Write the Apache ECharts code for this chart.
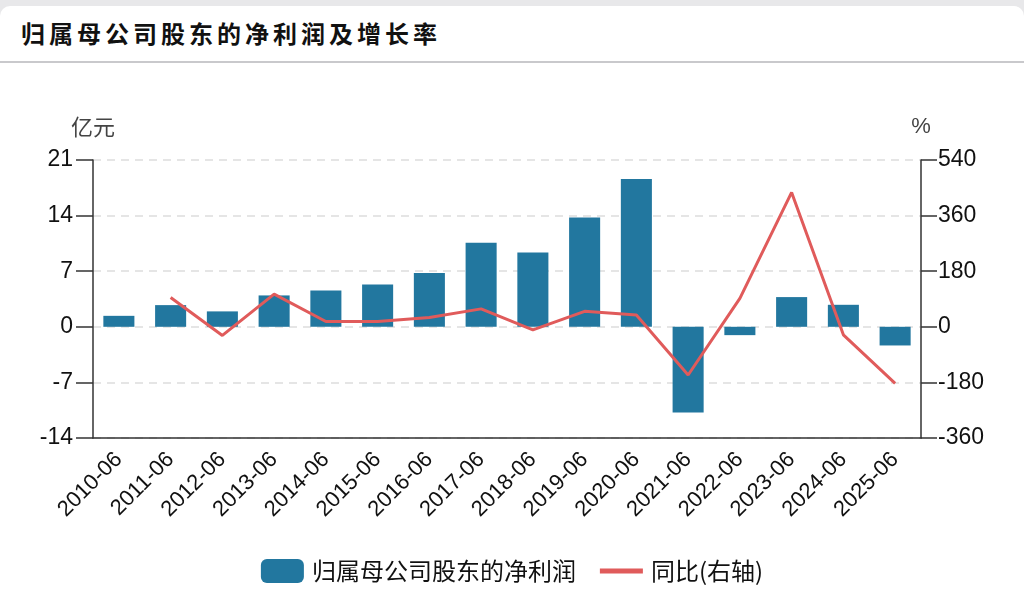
<!DOCTYPE html>
<html>
<head>
<meta charset="utf-8">
<script src="https://cdn.jsdelivr.net/npm/echarts@6/dist/echarts.min.js"></script>
<style>
  html, body { margin: 0; padding: 0; background: #e8e8ea; }
  .card {
    position: absolute; left: 0; top: 6px; width: 1024px; height: 600px;
    background: #fff; border-radius: 10px 10px 0 0;
  }
  .title {
    position: absolute; left: 21px; top: 14px; height: 47px;
    font: bold 24px "Noto Sans CJK SC", sans-serif; letter-spacing: 4px;
    color: #111; line-height: 26px;
  }
  .sep { position: absolute; left: 0; top: 55px; width: 1024px; height: 1.5px; background: #c9c9cc; }
  #main { position: absolute; left: 0; top: 0; width: 1024px; height: 606px; }
</style>
</head>
<body>
<div class="card">
  <div class="title">归属母公司股东的净利润及增长率</div>
  <div class="sep"></div>
</div>
<div id="main"></div>
<script>
// data
const periods = ["2010-06", "2011-06", "2012-06", "2013-06", "2014-06", "2015-06", "2016-06", "2017-06",
  "2018-06", "2019-06", "2020-06", "2021-06", "2022-06", "2023-06", "2024-06", "2025-06"];
const netProfit = [1.38, 2.73, 1.94, 3.95, 4.58, 5.34, 6.76, 10.58, 9.37, 13.77, 18.6, -10.78, -1.05, 3.74, 2.77, -2.35];
const yoyGrowth = [null, 95, -28, 106, 17, 17, 30, 58, -10, 50, 38, -156, 92, 435, -26, -183];

const barColor = "#22779f";
const lineColor = "#e05b5b";
const axisFont = "'Liberation Sans', Arial, 'Noto Sans CJK SC', sans-serif";
const cjkFont = "'Noto Sans CJK SC', sans-serif";

const chart = echarts.init(document.getElementById("main"));
const option = {
  animation: false,
  textStyle: { fontFamily: axisFont },
  grid: { left: 93, right: 103, top: 160, bottom: 168 },
  legend: {
    bottom: 18,
    left: "center",
    itemWidth: 43,
    itemHeight: 24,
    itemGap: 24,
    symbolKeepAspect: true,
    textStyle: { fontSize: 24, color: "#111", fontFamily: cjkFont, padding: [0, 0, 0, 3] },
    data: [
      { name: "归属母公司股东的净利润", icon: "roundRect" },
      { name: "同比(右轴)", icon: "path://M0,0H43V5H0Z", itemStyle: { color: lineColor } }
    ]
  },
  xAxis: {
    type: "category",
    data: periods,
    axisLine: { onZero: false, lineStyle: { color: "#333", width: 1.5 } },
    axisTick: { alignWithLabel: true, length: 16, lineStyle: { color: "#333", width: 1.5 } },
    axisLabel: { rotate: 45, margin: 18, fontSize: 22, color: "#111", interval: 0 }
  },
  yAxis: [
    {
      type: "value",
      name: "亿元",
      nameGap: 22,
      nameTextStyle: { fontSize: 22, color: "#444", fontFamily: cjkFont },
      min: -14, max: 21, interval: 7,
      axisLine: { show: true, lineStyle: { color: "#333", width: 1.5 } },
      axisTick: { show: true, length: 17, lineStyle: { color: "#333", width: 1.5 } },
      axisLabel: { fontSize: 23, color: "#111", margin: 20 },
      splitLine: { lineStyle: { color: "#ddd", type: [8, 6], width: 1.5 } }
    },
    {
      type: "value",
      name: "%",
      nameGap: 22,
      nameTextStyle: { fontSize: 22, color: "#444" },
      min: -360, max: 540, interval: 180,
      axisLine: { show: true, lineStyle: { color: "#333", width: 1.5 } },
      axisTick: { show: true, length: 16, lineStyle: { color: "#333", width: 1.5 } },
      axisLabel: { fontSize: 23, color: "#111", margin: 17 },
      splitLine: { show: false }
    }
  ],
  series: [
    {
      name: "归属母公司股东的净利润",
      type: "bar",
      data: netProfit,
      barWidth: "60%",
      itemStyle: { color: barColor }
    },
    {
      name: "同比(右轴)",
      type: "line",
      yAxisIndex: 1,
      data: yoyGrowth,
      symbol: "none",
      lineStyle: { color: lineColor, width: 3 },
      itemStyle: { color: lineColor }
    }
  ]
};
chart.setOption(option);
</script>
</body>
</html>
